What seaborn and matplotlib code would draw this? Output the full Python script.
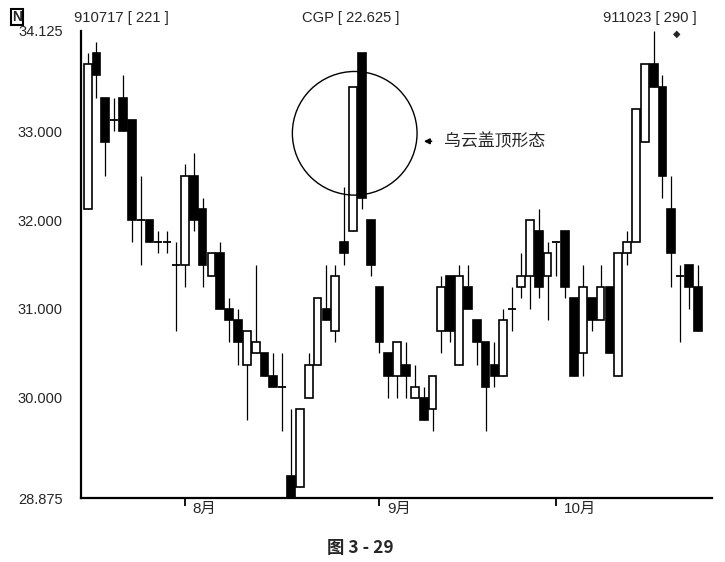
import matplotlib
matplotlib.use("Agg")
import numpy as np
import pandas as pd
import matplotlib.pyplot as plt
import matplotlib.transforms as mtransforms
from matplotlib.patches import Ellipse
import seaborn as sns

# CGP 日线 (1991-07-17 ~ 1991-10-23), 价格按 1/8 读取
opens = [32.125, 33.875, 33.375, 33.125, 33.375, 33.125, 32.0, 32.0, 31.75, 31.75,
         31.5, 31.5, 32.5, 32.125, 31.375, 31.625, 31.0, 30.875, 30.375, 30.5,
         30.5, 30.25, 30.125, 29.125, 29.0, 30.0, 30.375, 31.0, 30.75, 31.75,
         31.875, 33.875, 32.0, 31.25, 30.5, 30.25, 30.375, 30.0, 30.0, 29.875,
         30.75, 31.375, 30.375, 31.25, 30.875, 30.625, 30.375, 30.25, 31.0, 31.25,
         31.375, 31.875, 31.375, 31.75, 31.875, 31.125, 30.5, 31.125, 30.875, 31.25,
         30.25, 31.625, 31.75, 32.875, 33.75, 33.5, 32.125, 31.375, 31.5, 31.25]
highs = [33.875, 34.0, 33.375, 33.375, 33.625, 33.125, 32.5, 32.0, 31.875, 31.875,
         31.75, 32.625, 32.75, 32.25, 31.625, 31.75, 31.125, 31.0, 30.75, 31.5,
         30.5, 30.5, 30.5, 29.875, 29.875, 30.5, 31.125, 31.5, 31.5, 32.375,
         33.5, 33.875, 32.0, 31.25, 30.5, 30.625, 30.625, 30.375, 30.125, 30.25,
         31.375, 31.375, 31.5, 31.5, 30.875, 30.625, 30.625, 31.0, 31.25, 31.625,
         32.0, 32.125, 31.75, 31.75, 31.875, 31.125, 31.5, 31.125, 31.5, 31.25,
         31.625, 31.875, 33.25, 33.75, 34.125, 33.625, 32.5, 31.5, 31.5, 31.5]
lows = [32.125, 33.375, 32.5, 33.0, 33.0, 31.75, 31.5, 31.75, 31.625, 31.625,
        30.75, 31.25, 31.875, 31.25, 31.375, 31.0, 30.625, 30.375, 29.75, 30.5,
        30.25, 30.125, 29.625, 28.875, 29.0, 30.0, 30.375, 30.875, 30.625, 31.5,
        31.875, 32.125, 31.375, 30.5, 30.0, 30.0, 30.0, 30.0, 29.75, 29.625,
        30.5, 30.625, 30.375, 31.0, 30.375, 29.625, 30.125, 30.25, 30.75, 31.125,
        31.0, 31.125, 30.875, 31.375, 31.125, 30.25, 30.25, 30.75, 30.875, 30.5,
        30.25, 31.5, 31.75, 32.875, 33.5, 32.25, 31.25, 30.625, 31.0, 30.75]
closes = [33.75, 33.625, 32.875, 33.125, 33.0, 32.0, 32.0, 31.75, 31.75, 31.75,
          31.5, 32.5, 32.0, 31.5, 31.625, 31.0, 30.875, 30.625, 30.75, 30.625,
          30.25, 30.125, 30.125, 28.875, 29.875, 30.375, 31.125, 30.875, 31.375, 31.625,
          33.5, 32.25, 31.5, 30.625, 30.25, 30.625, 30.25, 30.125, 29.75, 30.25,
          31.25, 30.75, 31.375, 31.0, 30.625, 30.125, 30.25, 30.875, 31.0, 31.375,
          32.0, 31.25, 31.625, 31.75, 31.25, 30.25, 31.25, 30.875, 31.25, 30.5,
          31.625, 31.75, 33.25, 33.75, 33.5, 32.5, 31.625, 31.375, 31.25, 30.75]

dates = pd.bdate_range("1991-07-17", "1991-10-23").drop(pd.Timestamp("1991-09-02"))
month_names = {8: "8月", 9: "9月", 10: "10月"}
ytick_vals = [28.875, 30.0, 31.0, 32.0, 33.0, 34.125]

sns.set_theme(style="white")
plt.rcParams["font.family"] = ["Liberation Sans", "Noto Sans CJK SC", "DejaVu Sans"]
plt.rcParams["axes.unicode_minus"] = False

df = pd.DataFrame({"date": dates, "open": opens, "high": highs,
                   "low": lows, "close": closes})
df["idx"] = np.arange(len(df))
df["lo_body"] = df[["open", "close"]].min(axis=1)
df["hi_body"] = df[["open", "close"]].max(axis=1)
df["height"] = df["hi_body"] - df["lo_body"]

fig = plt.figure(figsize=(7.25, 5.62), dpi=100)
ax = fig.add_axes([81 / 725, 1 - 498 / 562, (712 - 81) / 725, (498 - 31) / 562])

body_w = 0.88
# 影线
ax.vlines(df["idx"], df["low"], df["high"], color="black", lw=0.9, zorder=1)

up = df[(df["close"] > df["open"])]
down = df[(df["close"] < df["open"])]
doji = df[(df["close"] == df["open"])]

ax.bar(up["idx"], up["height"], bottom=up["lo_body"], width=body_w,
       color="white", edgecolor="black", linewidth=1.2, zorder=2)
ax.bar(down["idx"], down["height"], bottom=down["lo_body"], width=body_w,
       color="black", edgecolor="black", linewidth=1.2, zorder=2)
ax.hlines(doji["close"], doji["idx"] - body_w / 2, doji["idx"] + body_w / 2,
          color="black", lw=1.3, zorder=2)

ax.set_xlim(-0.75, 70.6)
ax.set_ylim(28.875, 34.125)
ax.set_yticks(ytick_vals)
ax.set_yticklabels([f"{v:.3f}" for v in ytick_vals], fontsize=10.5)
ax.tick_params(axis="y", length=0, pad=13)

# 月份刻度
month_start = df.groupby(df["date"].dt.month)["idx"].min()
month_start = month_start[month_start.index.isin(month_names.keys())]
ax.set_xticks(month_start.values)
ax.set_xticklabels([])
ax.tick_params(axis="x", direction="out", length=6, width=1.3, color="black", bottom=True)
trans = mtransforms.blended_transform_factory(ax.transData, ax.transAxes)
for m, i in month_start.items():
    ax.text(i + 0.9, -0.008, month_names[m], transform=trans, ha="left", va="top",
            fontsize=11)

for side in ["top", "right"]:
    ax.spines[side].set_visible(False)
for side in ["left", "bottom"]:
    ax.spines[side].set_color("black")
    ax.spines[side].set_linewidth(1.6)
ax.grid(False)

# 乌云盖顶 圈注
c1 = df.iloc[30]
c2 = df.iloc[31]
cx = (c1["idx"] + c2["idx"]) / 2 - 0.3
cy = (c2["open"] + c1["open"]) / 2 + 0.1
ax.add_patch(Ellipse((cx, cy), width=14.1, height=1.39, fill=False,
                     edgecolor="black", lw=1.0, zorder=3))
ax.annotate("", xy=(cx + 7.5, cy - 0.09), xytext=(cx + 9.0, cy - 0.09),
            arrowprops=dict(arrowstyle="-|>", color="black", lw=1.2,
                            mutation_scale=8))
ax.text(cx + 10.1, cy - 0.09, "乌云盖顶形态", ha="left", va="center", fontsize=12.2,
        family=["Noto Sans CJK SC", "DejaVu Sans"])

# 顶部信息
fig.text(74 / 725, 1 - 18 / 562, "910717 [ 221 ]", ha="left", va="center", fontsize=10.6)
fig.text(351 / 725, 1 - 18 / 562, "CGP [ 22.625 ]", ha="center", va="center", fontsize=10.6)
fig.text(650 / 725, 1 - 18 / 562, "911023 [ 290 ]", ha="center", va="center", fontsize=10.6)
fig.text(12 / 725, 1 - 17 / 562, "N", ha="left", va="center", fontsize=10, weight="bold",
         bbox=dict(boxstyle="square,pad=0.1", fc="white", ec="black", lw=1.5))
fig.text(677 / 725, 1 - 34 / 562, "◆", ha="center", va="center", fontsize=7,
         family=["DejaVu Sans"])

# 图号
fig.text(360 / 725, 1 - 548 / 562, "图 3 - 29", ha="center", va="center", fontsize=12.5,
         weight="bold", family=["Noto Sans CJK SC", "DejaVu Sans"])

fig.savefig("out.png", dpi=100)
